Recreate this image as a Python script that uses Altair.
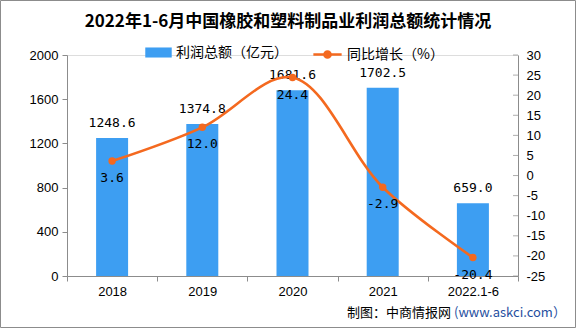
import altair as alt
import pandas as pd

years = ["2018", "2019", "2020", "2021", "2022.1-6"]
profit = [1248.6, 1374.8, 1681.6, 1702.5, 659.0]
growth = [3.6, 12.0, 24.4, -2.9, -20.4]
left_ticks = [0, 400, 800, 1200, 1600, 2000]
right_ticks = [30, 25, 20, 15, 10, 5, 0, -5, -10, -15, -20, -25]

BAR = "#3D9EF2"
LINE = "#F4691F"
GRID = "#8C8C8C"
NUM_FONT = "DejaVu Sans Mono"
AX_FONT = "Liberation Sans"
CJK = "Noto Sans CJK SC"

W, H = 451, 221

df = pd.DataFrame({"year": years, "profit": profit, "growth": growth,
                   "s1": "利润总额（亿元）", "s2": "同比增长（%）"})
tick_df = pd.DataFrame({"growth": right_ticks})
one = pd.DataFrame({"a": [0]})

x = alt.X("year:N", sort=years, title=None,
          scale=alt.Scale(paddingInner=0, paddingOuter=0),
          axis=alt.Axis(labelAngle=0, tickBand="extent", tickSize=5, tickColor=GRID,
                        domainColor=GRID, labelFont=AX_FONT, labelFontSize=13,
                        labelColor="#000", labelPadding=4))

yl = alt.Y("profit:Q", title=None,
           scale=alt.Scale(domain=[0, 2000], nice=False),
           axis=alt.Axis(values=left_ticks, format="d", grid=False, tickSize=5, tickColor=GRID,
                         domainColor=GRID, labelFont=AX_FONT, labelFontSize=13,
                         labelColor="#000", labelPadding=4, labelOverlap=False))

bars = alt.Chart(df).mark_bar(size=32).encode(
    x=x, y=yl,
    color=alt.Color("s1:N", scale=alt.Scale(range=[BAR]),
                    legend=alt.Legend(title=None, orient="none", legendX=78, legendY=-16,
                                      symbolType="M-1,-0.38H1V0.38H-1Z", symbolSize=700,
                                      labelFont=CJK, labelFontSize=14, labelColor="#000",
                                      symbolStrokeWidth=0, labelOffset=4)))
bar_text = alt.Chart(df).mark_text(font=NUM_FONT, fontSize=13, dy=-15, color="#000").encode(
    x=x, y=yl, text=alt.Text("profit:Q", format=".1f"))
left = alt.layer(bars, bar_text)

yr = alt.Y("growth:Q", title=None,
           scale=alt.Scale(domain=[-25, 30], nice=False),
           axis=alt.Axis(orient="right", values=right_ticks, grid=False, ticks=False,
                         domainColor=GRID, labelFont=AX_FONT, labelFontSize=13,
                         labelColor="#000", labelPadding=8, labelOverlap=False,
                         labelExpr="replace(datum.label, '\u2212', '-')"))

line = alt.Chart(df).mark_line(interpolate="catmull-rom", strokeWidth=2.6,
                               point=alt.OverlayMarkDef(filled=True, size=55, color=LINE)).encode(
    x=x, y=yr,
    color=alt.Color("s2:N", scale=alt.Scale(range=[LINE]),
                    legend=alt.Legend(title=None, orient="none", legendX=245, legendY=-16,
                                      symbolType="M-1,0H1M-0.22,0A0.22,0.22,0,1,1,0.22,0A0.22,0.22,0,1,1,-0.22,0",
                                      symbolSize=800, symbolStrokeWidth=2.5,
                                      symbolFillColor=LINE, symbolStrokeColor=LINE,
                                      labelFont=CJK, labelFontSize=14, labelColor="#000",
                                      labelOffset=4)))
line_text = alt.Chart(df).transform_calculate(
    lab="replace(format(datum.growth, '.1f'), '\u2212', '-')"
).mark_text(font=NUM_FONT, fontSize=13, dy=17, color="#000").encode(
    x=x, y=yr, text="lab:N")
rticks = alt.Chart(tick_df).mark_tick(orient="horizontal", size=5, thickness=1, color=GRID).encode(
    x=alt.value(W - 2.5), y=yr)
right = alt.layer(line, line_text, rticks)

border = alt.Chart(one).mark_rect(
    fill=None, stroke=GRID, strokeWidth=1).encode(
    x=alt.value(-66.5), x2=alt.value(W + 57.5), y=alt.value(-54.5), y2=alt.value(H + 51.5))

title = alt.Chart(one).mark_text(
    font=CJK, fontSize=17, fontWeight="bold", align="center", baseline="middle", color="#000",
    text="2022年1-6月中国橡胶和塑料制品业利润总额统计情况").encode(
    x=alt.value(288 - 67), y=alt.value(22 - 55))

foot1 = alt.Chart(one).mark_text(
    font=CJK, fontSize=13, align="left", baseline="middle", color="#000",
    text="制图：中商情报网").encode(x=alt.value(280), y=alt.value(37 + H))
foot2 = alt.Chart(one).mark_text(
    font=CJK, fontSize=13, align="left", baseline="middle", color="#1F4FA0",
    text="(www.askci.com）").encode(x=alt.value(387), y=alt.value(37 + H))

chart = alt.layer(left, right, border, title, foot1, foot2).resolve_scale(
    y="independent", color="independent"
).properties(
    width=W, height=H,
    padding={"left": 67, "top": 55, "right": 58, "bottom": 52},
    autosize=alt.AutoSizeParams(type="none"),
).configure_view(stroke=None).configure(background="white")

chart.save("out.html", embed_options={"renderer": "svg", "actions": False})
